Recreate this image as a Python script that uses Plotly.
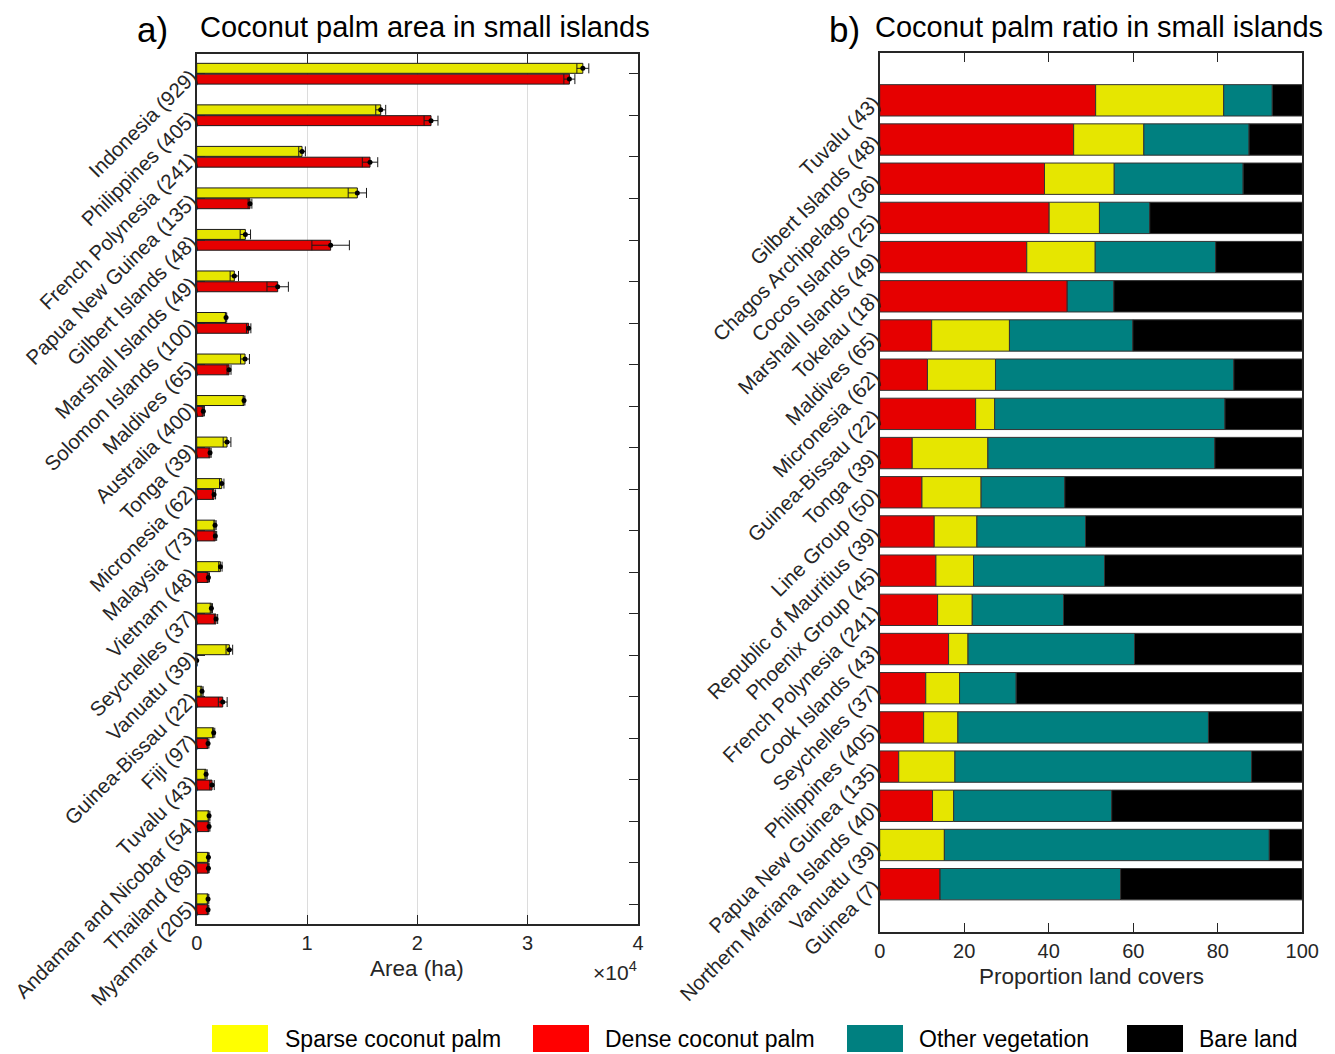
import plotly.graph_objects as go

# ---------------- data: panel a ----------------
countries_a = ["Indonesia (929)", "Philippines (405)", "French Polynesia (241)", "Papua New Guinea (135)",
               "Gilbert Islands (48)", "Marshall Islands (49)", "Solomon Islands (100)", "Maldives (65)",
               "Australia (400)", "Tonga (39)", "Micronesia (62)", "Malaysia (73)", "Vietnam (48)",
               "Seychelles (37)", "Vanuatu (39)", "Guinea-Bissau (22)", "Fiji (97)", "Tuvalu (43)",
               "Andaman and Nicobar (54)", "Thailand (89)", "Myanmar (205)"]
sparse_area = [35000, 16680, 9550, 14560, 4410, 3410, 2660, 4380, 4290, 2750, 2270, 1660, 2150,
               1330, 2960, 480, 1540, 850, 1120, 1060, 1030]
sparse_err = [540, 450, 300, 830, 470, 380, 60, 400, 80, 350, 200, 100, 150,
              100, 300, 100, 100, 100, 80, 70, 70]
dense_area = [33780, 21240, 15710, 4830, 12140, 7340, 4710, 2930, 600, 1210, 1570, 1690, 1060,
              1750, 0, 2360, 1030, 1390, 1120, 1060, 1030]
dense_err = [500, 630, 700, 170, 1700, 970, 200, 180, 100, 100, 140, 120, 100,
             150, 0, 400, 80, 200, 80, 70, 70]
xticks_a = [0, 10000, 20000, 30000, 40000]
xticklabels_a = ["0", "1", "2", "3", "4"]

# ---------------- data: panel b ----------------
countries_b = ["Tuvalu (43)", "Gilbert Islands (48)", "Chagos Archipelago (36)", "Cocos Islands (25)",
               "Marshall Islands (49)", "Tokelau (18)", "Maldives (65)", "Micronesia (62)",
               "Guinea-Bissau (22)", "Tonga (39)", "Line Group (50)", "Republic of Mauritius (39)",
               "Phoenix Group (45)", "French Polynesia (241)", "Cook Islands (43)", "Seychelles (37)",
               "Philippines (405)", "Papua New Guinea (135)", "Northern Mariana Islands (40)",
               "Vanuatu (39)", "Guinea (7)"]
dense_pct = [51.1, 45.9, 39.0, 40.1, 34.8, 44.4, 12.3, 11.3, 22.7, 7.7, 10.0, 12.9, 13.3, 13.7,
             16.3, 10.9, 10.4, 4.5, 12.5, 0.0, 14.3]
sparse_pct = [30.3, 16.6, 16.5, 11.9, 16.2, 0.0, 18.4, 16.1, 4.5, 17.9, 14.0, 10.1, 8.9, 8.2,
              4.6, 8.0, 8.1, 13.3, 5.0, 15.3, 0.0]
other_pct = [11.5, 24.9, 30.5, 11.9, 28.5, 11.0, 29.2, 56.4, 54.5, 53.7, 19.8, 25.7, 31.0, 21.6,
             39.4, 13.4, 59.3, 70.2, 37.4, 76.9, 42.7]
bare_pct = [round(100 - d - s - o, 1) for d, s, o in zip(dense_pct, sparse_pct, other_pct)]
xticks_b = [0, 20, 40, 60, 80, 100]

legend_names = ["Sparse coconut palm", "Dense coconut palm", "Other vegetation", "Bare land"]

# ---------------- style ----------------
OFF = 8  # page body margin
W, H = 1335 - OFF, 1054 - OFF
FONT = "Liberation Sans, Arial, Helvetica, sans-serif"
AX = "#262626"
YEL = "rgb(230,230,0)"
RED = "rgb(230,0,0)"
TEAL = "rgb(0,128,128)"
BLK = "rgb(0,0,0)"
LEG_COLORS = ["rgb(255,255,0)", "rgb(255,0,0)", "rgb(0,128,128)", "rgb(0,0,0)"]


def px(x):
    return (x - OFF) / W


def py(y):
    return 1 - (y - OFF) / H


fig = go.Figure()

# panel a bars
pos_a = list(range(len(countries_a)))
BW = 0.24
fig.add_trace(go.Bar(
    y=pos_a, x=sparse_area, orientation="h", xaxis="x", yaxis="y",
    offset=-0.255, width=BW, marker=dict(color=YEL, line=dict(color="#1a1a1a", width=1)),
    error_x=dict(type="data", array=sparse_err, color="#1a1a1a", thickness=1, width=5),
    name=legend_names[0], showlegend=False))
fig.add_trace(go.Bar(
    y=pos_a, x=dense_area, orientation="h", xaxis="x", yaxis="y",
    offset=0.005, width=BW, marker=dict(color=RED, line=dict(color="#1a1a1a", width=1)),
    error_x=dict(type="data", array=dense_err, color="#1a1a1a", thickness=1, width=5),
    name=legend_names[1], showlegend=False))
# mean dots
fig.add_trace(go.Scatter(
    x=sparse_area, y=[p - 0.255 + BW / 2 for p in pos_a], mode="markers", xaxis="x", yaxis="y",
    marker=dict(color="black", size=5), showlegend=False, hoverinfo="skip"))
fig.add_trace(go.Scatter(
    x=dense_area, y=[p + 0.005 + BW / 2 for p in pos_a], mode="markers", xaxis="x", yaxis="y",
    marker=dict(color="black", size=5), showlegend=False, hoverinfo="skip"))

# panel b stacked bars
pos_b = list(range(len(countries_b)))
series_b = [(dense_pct, RED, legend_names[1]), (sparse_pct, YEL, legend_names[0]),
            (other_pct, TEAL, legend_names[2]), (bare_pct, BLK, legend_names[3])]
base = [0.0] * len(countries_b)
for vals, col, nm in series_b:
    fig.add_trace(go.Bar(
        y=pos_b, x=vals, base=list(base), orientation="h", xaxis="x2", yaxis="y2",
        offset=-0.4, width=0.8, marker=dict(color=col, line=dict(color="#333333", width=1)),
        name=nm, showlegend=False))
    base = [b + v for b, v in zip(base, vals)]

axis_common = dict(showline=True, linecolor=AX, linewidth=1.5, mirror="ticks", ticks="inside",
                   ticklen=9, tickcolor=AX, tickwidth=1.2, zeroline=False, automargin=False,
                   tickfont=dict(family=FONT, size=20, color=AX))
ytick_font = dict(family=FONT, size=20.5, color=AX)

fig.update_layout(
    width=W, height=H, margin=dict(l=0, r=0, t=0, b=0),
    paper_bgcolor="white", plot_bgcolor="white", template="none",
    barmode="overlay", showlegend=False, font=dict(family=FONT, color=AX),
    xaxis=dict(domain=[px(196.7), px(638)], anchor="y", range=[0, 40000],
               tickvals=xticks_a, ticktext=xticklabels_a, showgrid=True,
               gridcolor="#dcdcdc", gridwidth=1, **axis_common),
    yaxis=dict(domain=[py(924), py(54)], anchor="x", range=[20.47, -0.48],
               tickvals=pos_a, ticktext=countries_a, tickangle=-45, showgrid=False,
               **{**axis_common, "tickfont": ytick_font}),
    xaxis2=dict(domain=[px(879.7), px(1302.3)], anchor="y2", range=[0, 100],
                tickvals=xticks_b, showgrid=False, **axis_common),
    yaxis2=dict(domain=[py(932), py(53.3)], anchor="x2", range=[21.22, -1.2],
                tickvals=pos_b, ticktext=countries_b, tickangle=-45, showgrid=False,
                **{**axis_common, "ticks": "", "tickfont": ytick_font}),
)

ann = []
# titles
ann.append(dict(x=px(152), y=py(8), text="a)", font=dict(size=35, color="black", family=FONT),
                xanchor="center", yanchor="top"))
ann.append(dict(x=px(198), y=py(27), text="Coconut palm area in small islands",
                font=dict(size=29, color="black", family=FONT), xanchor="left", yanchor="middle"))
ann.append(dict(x=px(844), y=py(8), text="b)", font=dict(size=35, color="black", family=FONT),
                xanchor="center", yanchor="top"))
ann.append(dict(x=px(873), y=py(27), text="Coconut palm ratio in small islands",
                font=dict(size=29, color="black", family=FONT), xanchor="left", yanchor="middle"))
# axis titles
ann.append(dict(x=px(417), y=py(968), text="Area (ha)", font=dict(size=22.5, color=AX, family=FONT),
                xanchor="center", yanchor="middle"))
ann.append(dict(x=px(639), y=py(971), text="×10<sup>4</sup>", font=dict(size=21, color=AX, family=FONT),
                xanchor="right", yanchor="middle"))
ann.append(dict(x=px(1091), y=py(976), text="Proportion land covers",
                font=dict(size=22.5, color=AX, family=FONT), xanchor="center", yanchor="middle"))

# legend (drawn)
shapes = []
leg_sq_x = [212, 533, 847, 1127]
leg_txt_x = [283, 603, 917, 1197]
for nm, col, sx, tx in zip(legend_names, LEG_COLORS, leg_sq_x, leg_txt_x):
    shapes.append(dict(type="rect", xref="paper", yref="paper", x0=px(sx), x1=px(sx + 56),
                       y0=py(1052), y1=py(1025), fillcolor=col, line=dict(width=0)))
    ann.append(dict(x=px(tx), y=py(1039), text=nm, font=dict(size=23, color="black", family=FONT),
                    xanchor="left", yanchor="middle"))

for a in ann:
    a.update(xref="paper", yref="paper", showarrow=False)

fig.update_layout(annotations=ann, shapes=shapes)
fig.write_html("out.html")
